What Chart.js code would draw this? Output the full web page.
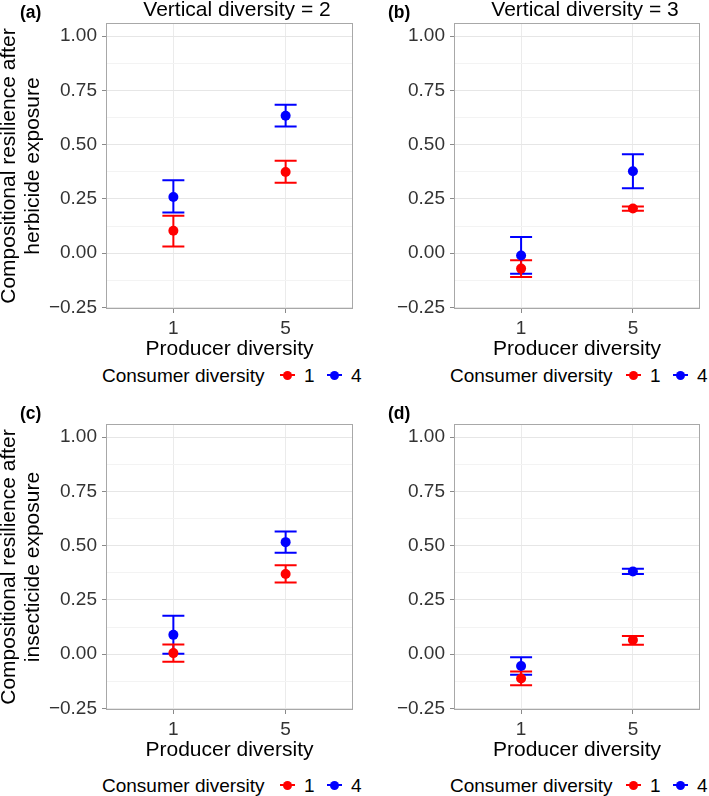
<!DOCTYPE html>
<html><head><meta charset="utf-8">
<script src="https://cdn.jsdelivr.net/npm/chart.js@4.4.1/dist/chart.umd.min.js"></script>
<style>
html,body{margin:0;padding:0;background:#fff;}
body{width:709px;height:796px;position:relative;overflow:hidden;font-family:"Liberation Sans",Arial,Helvetica,sans-serif;}
canvas{position:absolute;}
.t{position:absolute;white-space:nowrap;color:#000;}
.lab{font-weight:bold;font-size:17.5px;line-height:18px;}
.ttl{font-size:21px;line-height:21px;transform:translateX(-50%);}
.leg{font-size:19px;line-height:19px;}
.kl{position:absolute;height:2px;width:15px;}
.kd{position:absolute;width:9px;height:9px;border-radius:50%;}
</style></head><body>
<canvas id="cA" width="361" height="362" style="left:-3px;top:0px"></canvas>
<canvas id="cB" width="343" height="362" style="left:362px;top:0px"></canvas>
<canvas id="cC" width="361" height="362" style="left:-3px;top:401px"></canvas>
<canvas id="cD" width="343" height="362" style="left:362px;top:401px"></canvas>
<div id="overlay"></div>
<script>
// ---- categories / ticks ----
const producerLabels = ["1", "5"];
const consumerLabels = ["1", "4"];
const yTickValues = [-0.25, 0, 0.25, 0.5, 0.75, 1];
const yTickLabels = ["\u22120.25", "0.00", "0.25", "0.50", "0.75", "1.00"];
const yMinorValues = [-0.125, 0.125, 0.375, 0.625, 0.875];

// ---- (a) herbicide, vertical diversity 2 ----
const aRedMean = [0.103, 0.374];
const aRedLow = [0.031, 0.324];
const aRedHigh = [0.172, 0.426];
const aBlueMean = [0.259, 0.633];
const aBlueLow = [0.187, 0.583];
const aBlueHigh = [0.336, 0.684];
// ---- (b) herbicide, vertical diversity 3 ----
const bRedMean = [-0.071, 0.206];
const bRedLow = [-0.110, 0.196];
const bRedHigh = [-0.032, 0.215];
const bBlueMean = [-0.011, 0.377];
const bBlueLow = [-0.095, 0.299];
const bBlueHigh = [0.074, 0.456];
// ---- (c) insecticide, vertical diversity 2 ----
const cRedMean = [0.005, 0.369];
const cRedLow = [-0.035, 0.330];
const cRedHigh = [0.045, 0.409];
const cBlueMean = [0.089, 0.516];
const cBlueLow = [0.002, 0.467];
const cBlueHigh = [0.177, 0.565];
// ---- (d) insecticide, vertical diversity 3 ----
const dRedMean = [-0.112, 0.065];
const dRedLow = [-0.143, 0.043];
const dRedHigh = [-0.080, 0.084];
const dBlueMean = [-0.054, 0.381];
const dBlueLow = [-0.095, 0.369];
const dBlueHigh = [-0.014, 0.393];

const RED = '#ff0000', BLUE = '#0000ff';
const FAM = '"Liberation Sans", Arial, Helvetica, sans-serif';
const isMajor = v => yTickValues.some(t => Math.abs(t - v) < 1e-6);

const framePlugin = {
  id: 'frameErr',
  beforeDatasetsDraw(chart) {
    const {ctx, chartArea: a, scales: {x, y}} = chart;
    ctx.save();
    ctx.strokeStyle = '#a8a8a8';
    ctx.lineWidth = 1;
    ctx.strokeRect(Math.round(a.left) + 0.5, Math.round(a.top) + 0.5,
                   Math.round(a.right - a.left) - 1, Math.round(a.bottom - a.top) - 1);
    // error bars: draw last dataset first so the first one is on top
    const ds = chart.data.datasets;
    for (let k = ds.length - 1; k >= 0; k--) {
      const d = ds[k];
      ctx.strokeStyle = d.backgroundColor;
      ctx.lineWidth = 2;
      d.errLow.forEach((lo, i) => {
        const px = x.getPixelForValue(i + 1);
        const pl = y.getPixelForValue(lo);
        const ph = y.getPixelForValue(d.errHigh[i]);
        ctx.beginPath();
        ctx.moveTo(px, pl); ctx.lineTo(px, ph);
        ctx.moveTo(px - 11, pl); ctx.lineTo(px + 11, pl);
        ctx.moveTo(px - 11, ph); ctx.lineTo(px + 11, ph);
        ctx.stroke();
      });
    }
    ctx.restore();
  }
};

function makePanel(id, yTitle, yWidth, red, blue) {
  const pts = arr => arr.map((v, i) => ({x: i + 1, y: v}));
  return new Chart(document.getElementById(id), {
    type: 'scatter',
    data: {
      datasets: [
        {label: consumerLabels[0], data: pts(red[0]), errLow: red[1], errHigh: red[2],
         backgroundColor: RED, borderColor: RED, pointRadius: 5, borderWidth: 0},
        {label: consumerLabels[1], data: pts(blue[0]), errLow: blue[1], errHigh: blue[2],
         backgroundColor: BLUE, borderColor: BLUE, pointRadius: 5, borderWidth: 0}
      ]
    },
    options: {
      responsive: false, animation: false, devicePixelRatio: 1,
      layout: {padding: {top: 23, right: 0, left: 0, bottom: 0}},
      plugins: {legend: {display: false}, tooltip: {enabled: false}},
      scales: {
        x: {
          type: 'linear', min: 0.4, max: 2.6,
          afterBuildTicks: s => { s.ticks = producerLabels.map((_, i) => ({value: i + 1})); },
          afterFit: s => { s.height = 53; },
          ticks: {callback: (v, i) => producerLabels[i], font: {size: 19, family: FAM},
                  color: '#333333', padding: 4, maxRotation: 0, autoSkip: false},
          grid: {color: '#ebebeb', lineWidth: 1, tickLength: 4, tickColor: '#8a8a8a'},
          border: {display: false},
          title: {display: true, text: 'Producer diversity', color: '#000',
                  font: {size: 21, family: FAM, lineHeight: 1.143}, padding: {top: 0, bottom: 1}}
        },
        y: {
          type: 'linear', min: -0.257, max: 1.06,
          afterBuildTicks: s => { s.ticks = yMinorValues.concat(yTickValues).sort((p, q) => p - q).map(v => ({value: v})); },
          afterFit: s => { s.width = yWidth; },
          ticks: {callback: v => { const k = yTickValues.findIndex(t => Math.abs(t - v) < 1e-6); return k >= 0 ? yTickLabels[k] : ''; },
                  font: {size: 19, family: FAM}, color: '#333333', padding: 5, autoSkip: false},
          grid: {color: c => isMajor(c.tick.value) ? '#e6e6e6' : '#f3f3f3', lineWidth: 1, tickLength: 4,
                 tickColor: c => isMajor(c.tick.value) ? '#8a8a8a' : 'rgba(0,0,0,0)'},
          border: {display: false},
          title: {display: !!yTitle, text: yTitle || '', color: '#000',
                  font: {size: 21, family: FAM, lineHeight: 1.143}, padding: {top: 0, bottom: 0}}
        }
      }
    },
    plugins: [framePlugin]
  });
}

makePanel('cA', ['Compositional resilience after', 'herbicide exposure'], 109,
  [aRedMean, aRedLow, aRedHigh], [aBlueMean, aBlueLow, aBlueHigh]);
makePanel('cB', null, 92,
  [bRedMean, bRedLow, bRedHigh], [bBlueMean, bBlueLow, bBlueHigh]);
makePanel('cC', ['Compositional resilience after', 'insecticide exposure'], 109,
  [cRedMean, cRedLow, cRedHigh], [cBlueMean, cBlueLow, cBlueHigh]);
makePanel('cD', null, 92,
  [dRedMean, dRedLow, dRedHigh], [dBlueMean, dBlueLow, dBlueHigh]);

// ---- text overlays ----
const ov = document.getElementById('overlay');
function txt(cls, s, left, top) {
  const d = document.createElement('div');
  d.className = 't ' + cls; d.textContent = s;
  d.style.left = left + 'px'; d.style.top = top + 'px';
  ov.appendChild(d); return d;
}
txt('lab', '(a)', 20, 3);
txt('lab', '(b)', 388, 3);
txt('lab', '(c)', 20, 404);
txt('lab', '(d)', 388, 404);
txt('ttl', 'Vertical diversity = 2', 237, -2);
txt('ttl', 'Vertical diversity = 3', 585, -2);

function legend(x0, yc, k1, k2) {
  txt('leg', 'Consumer diversity', x0, yc - 9);
  [[k1, RED, consumerLabels[0]], [k2, BLUE, consumerLabels[1]]].forEach(([kx, col, lab]) => {
    const l = document.createElement('div'); l.className = 'kl';
    l.style.left = (kx - 7.5) + 'px'; l.style.top = (yc - 1) + 'px'; l.style.background = col; ov.appendChild(l);
    const d = document.createElement('div'); d.className = 'kd';
    d.style.left = (kx - 4.5) + 'px'; d.style.top = (yc - 4.5) + 'px'; d.style.background = col; ov.appendChild(d);
    txt('leg', lab, kx + 17, yc - 9);
  });
}
legend(102, 375, 287, 334);
legend(450, 375, 633, 680);
legend(102, 785, 287, 334);
legend(450, 785, 633, 680);
</script>
</body></html>
